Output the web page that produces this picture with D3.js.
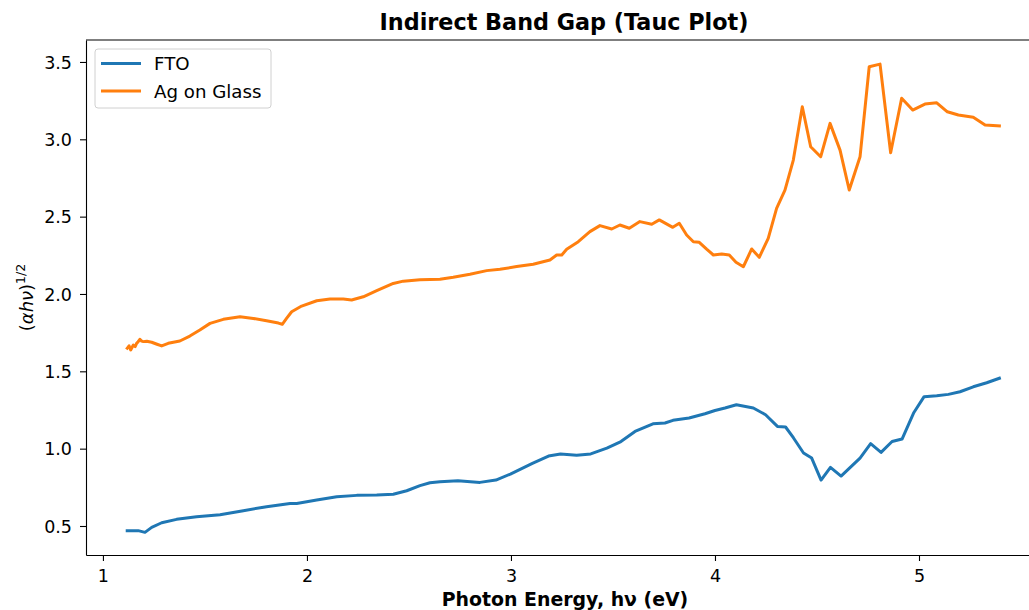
<!DOCTYPE html>
<html>
<head>
<meta charset="utf-8">
<script src="https://cdn.jsdelivr.net/npm/d3@7"></script>
<style>
body { margin: 0; background: #fff; }
svg { display: block; font-family: "DejaVu Sans", sans-serif; }
</style>
</head>
<body>
<div id="tauc_plot"></div>
<script>
// photon energy (eV) and (alpha h nu)^1/2
var ftoX = [1.119,1.173,1.206,1.239,1.288,1.361,1.459,1.574,1.688,1.802,1.917,1.950,2.048,2.146,2.244,2.342,2.423,2.489,2.554,2.603,2.652,2.740,2.848,2.926,2.997,3.105,3.184,3.243,3.322,3.391,3.470,3.539,3.608,3.696,3.755,3.794,3.873,3.951,4.000,4.049,4.105,4.188,4.248,4.306,4.346,4.385,4.434,4.474,4.520,4.566,4.618,4.711,4.763,4.814,4.868,4.917,4.975,5.025,5.087,5.144,5.201,5.266,5.332,5.394];
var ftoY = [0.470,0.470,0.459,0.491,0.521,0.543,0.560,0.573,0.599,0.625,0.646,0.646,0.668,0.689,0.698,0.700,0.705,0.728,0.761,0.780,0.786,0.792,0.782,0.797,0.836,0.905,0.952,0.965,0.958,0.966,1.003,1.046,1.111,1.161,1.166,1.183,1.198,1.226,1.247,1.263,1.284,1.263,1.219,1.144,1.140,1.069,0.972,0.939,0.797,0.879,0.823,0.939,1.032,0.976,1.046,1.062,1.234,1.336,1.342,1.351,1.368,1.400,1.426,1.455];

var agX = [1.119,1.128,1.136,1.149,1.158,1.165,1.172,1.181,1.190,1.198,1.215,1.239,1.265,1.288,1.320,1.377,1.426,1.475,1.525,1.590,1.672,1.737,1.802,1.860,1.879,1.900,1.925,1.974,2.048,2.113,2.178,2.219,2.276,2.342,2.423,2.472,2.554,2.652,2.717,2.799,2.881,2.946,3.028,3.109,3.191,3.224,3.249,3.273,3.330,3.387,3.436,3.494,3.534,3.580,3.632,3.690,3.727,3.793,3.825,3.861,3.894,3.923,3.959,3.992,4.033,4.070,4.103,4.139,4.180,4.217,4.261,4.302,4.343,4.384,4.428,4.469,4.518,4.564,4.613,4.658,4.711,4.756,4.809,4.861,4.915,4.969,5.029,5.087,5.139,5.193,5.266,5.324,5.394];
var agY = [1.649,1.665,1.638,1.670,1.660,1.681,1.690,1.707,1.695,1.692,1.694,1.688,1.675,1.664,1.681,1.696,1.728,1.767,1.810,1.836,1.853,1.842,1.827,1.812,1.804,1.842,1.885,1.922,1.956,1.967,1.967,1.961,1.982,2.021,2.068,2.083,2.092,2.095,2.108,2.127,2.151,2.160,2.177,2.192,2.220,2.252,2.252,2.289,2.338,2.403,2.442,2.420,2.446,2.425,2.468,2.451,2.479,2.431,2.457,2.381,2.338,2.334,2.290,2.252,2.258,2.252,2.205,2.176,2.291,2.237,2.360,2.554,2.672,2.866,3.210,2.952,2.887,3.103,2.930,2.672,2.887,3.469,3.486,2.913,3.265,3.189,3.228,3.236,3.178,3.157,3.142,3.092,3.086];

var seriesNames = ["FTO", "Ag on Glass"];
var xTicks = [1, 2, 3, 4, 5];
var yTicks = [0.5, 1.0, 1.5, 2.0, 2.5, 3.0, 3.5];

var W = 1029, H = 610;
var margin = {top: 40, left: 86, bottom: 55};
var plotW = 955, plotH = H - margin.top - margin.bottom;
var color = ["#1f77b4", "#ff7f0e"];

var svg = d3.select("#tauc_plot")
  .append("svg")
  .attr("width", W)
  .attr("height", H);

var x = d3.scaleLinear().domain([0.917, 5.598]).range([margin.left, margin.left + plotW]);
var y = d3.scaleLinear().domain([0.3125, 3.642]).range([margin.top + plotH, margin.top]);

// axes
var xAxis = svg.append("g")
  .attr("transform", "translate(0," + (margin.top + plotH) + ")")
  .call(d3.axisBottom(x).tickValues(xTicks).tickFormat(d3.format("d")).tickSize(6).tickSizeOuter(0));
var yAxis = svg.append("g")
  .attr("transform", "translate(" + margin.left + ",0)")
  .call(d3.axisLeft(y).tickValues(yTicks).tickFormat(d3.format(".1f")).tickSize(6).tickSizeOuter(0));

[xAxis, yAxis].forEach(function(a) {
  a.select(".domain").attr("stroke", "#000").attr("stroke-width", 1.1);
  a.selectAll(".tick line").attr("stroke", "#000").attr("stroke-width", 1.1);
  a.selectAll(".tick text").attr("fill", "#000").style("font-size", "17.5px").style("font-family", "DejaVu Sans");
});
xAxis.selectAll(".tick text").attr("y", 0).attr("dy", 0).attr("transform", "translate(0,27)");
yAxis.selectAll(".tick text").attr("x", -14).attr("dy", "0.36em");

// top spine
svg.append("line")
  .attr("x1", margin.left).attr("x2", margin.left + plotW)
  .attr("y1", margin.top).attr("y2", margin.top)
  .attr("stroke", "#000").attr("stroke-width", 1.1);

// lines
var line = d3.line()
  .x(function(d) { return x(d[0]); })
  .y(function(d) { return y(d[1]); });

var ftoData = ftoX.map(function(v, i) { return [v, ftoY[i]]; });
var agData = agX.map(function(v, i) { return [v, agY[i]]; });

[ftoData, agData].forEach(function(data, i) {
  svg.append("path")
    .datum(data)
    .attr("d", line)
    .attr("fill", "none")
    .attr("stroke", color[i])
    .attr("stroke-width", 3)
    .attr("stroke-linejoin", "round")
    .attr("stroke-linecap", "square");
});

// title and labels
svg.append("text")
  .attr("x", 564).attr("y", 30)
  .attr("text-anchor", "middle")
  .style("font-size", "22.3px").style("font-weight", "bold")
  .text("Indirect Band Gap (Tauc Plot)");

svg.append("text")
  .attr("x", 565).attr("y", 606)
  .attr("text-anchor", "middle")
  .style("font-size", "18.9px").style("font-weight", "bold")
  .text("Photon Energy, h\u03bd (eV)");

var yl = svg.append("text")
  .attr("transform", "translate(33," + (margin.top + plotH / 2) + ") rotate(-90)")
  .attr("text-anchor", "middle")
  .style("font-size", "18px");
yl.append("tspan").text("(");
yl.append("tspan").style("font-style", "italic").text("\u03b1h\u03bd");
yl.append("tspan").text(")");
yl.append("tspan").attr("dy", -8).style("font-size", "12.5px").text("1/2");

// legend
var lg = svg.append("g").attr("transform", "translate(95,49)");
lg.append("rect")
  .attr("width", 176).attr("height", 59)
  .attr("rx", 3)
  .attr("fill", "#fff").attr("fill-opacity", 0.8)
  .attr("stroke", "#d0d0d0").attr("stroke-width", 1);
seriesNames.forEach(function(name, i) {
  var yy = 14.5 + i * 27.5;
  lg.append("line")
    .attr("x1", 6).attr("x2", 46)
    .attr("y1", yy).attr("y2", yy)
    .attr("stroke", color[i]).attr("stroke-width", 3);
  lg.append("text")
    .attr("x", 59).attr("y", yy).attr("dy", "0.36em")
    .style("font-size", "18.2px")
    .text(name);
});
</script>
</body>
</html>
